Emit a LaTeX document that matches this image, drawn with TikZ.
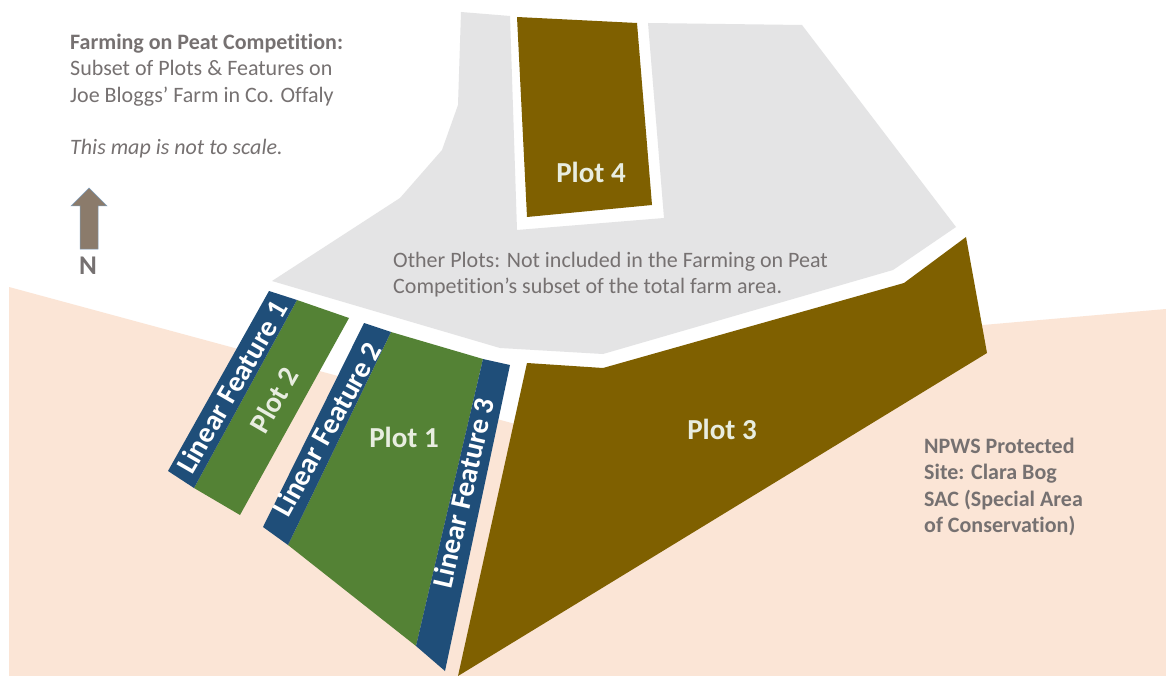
\documentclass[tikz,border=0pt]{standalone}
\usepackage{fontspec}
\setmainfont{Carlito}[Ligatures=NoCommon]
\definecolor{peach}{HTML}{FBE5D6}
\definecolor{greyplot}{HTML}{E4E4E5}
\definecolor{brownplot}{HTML}{7F6000}
\definecolor{greenplot}{HTML}{548235}
\definecolor{bluefeat}{HTML}{1F4E79}
\definecolor{txtgrey}{HTML}{767171}
\definecolor{platetxt}{HTML}{E8EDE0}
\definecolor{arrowfill}{HTML}{8B7B6B}
\definecolor{arrowline}{HTML}{7F9DB9}
\tikzset{
  x=1pt,y=-1pt,
  area/.style={draw=none},
  plotlabel/.style={font=\bfseries\fontsize{29}{32}\selectfont,text=platetxt,inner sep=0pt},
  featlabel/.style={font=\bfseries\fontsize{29}{32}\selectfont,text=white,inner sep=0pt},
  note/.style={font=\fontsize{22}{26.2}\selectfont,text=txtgrey,align=left,inner sep=0pt,anchor=north west}
}
\begin{document}
\begin{tikzpicture}
\useasboundingbox (0,0) rectangle (1166,676);
\fill[white] (0,0) rectangle (1166,676);
\fill[peach,area] (9,287) -- (530,428) -- (983,325) -- (1166,309) -- (1166,676) -- (9,676) -- cycle;
\fill[greyplot,area] (461,12) -- (510,16) -- (517,230) -- (664,218) -- (648,23) -- (802,25) -- (956,227) -- (893,270) -- (603,354) -- (500,348) -- (272,281) -- (400,198) -- (442,150) -- (458,105) -- cycle;
\fill[brownplot,area] (517,17) -- (637,23) -- (652,205) -- (527,217) -- cycle;
\fill[brownplot,area] (527,363) -- (603,368) -- (904,283) -- (966,237) -- (987,353) -- (458,676) -- cycle;
\fill[greenplot,area] (297,300) -- (349,318) -- (240,515) -- (194,488) -- cycle;
\fill[bluefeat,area] (269,291) -- (297,300) -- (194,488) -- (168,471) -- cycle;
\fill[greenplot,area] (391,332) -- (483,359) -- (416,646) -- (288,545) -- cycle;
\fill[bluefeat,area] (364,323) -- (391,332) -- (288,545) -- (263,527) -- cycle;
\fill[bluefeat,area] (483,359) -- (510,365) -- (445,671) -- (416,646) -- cycle;
\node[note] (title) at (70,34) {\textbf{Farming on Peat Competition:}\\Subset of Plots \& Features on\\Joe Bloggs’ Farm in Co. Offaly};
\node[note] (scale) at (70,139) {\textit{This map is not to scale.}};
\fill[arrowfill,draw=arrowline,line width=0.5pt] (89,188) -- (107,206) -- (98,206) -- (98,249) -- (80,249) -- (80,206) -- (71,206) -- cycle;
\node[font=\bfseries\fontsize{27}{30}\selectfont,text=txtgrey,inner sep=0pt] (north) at (88,266) {N};
\node[note] (other) at (393,252) {Other Plots: Not included in the Farming on Peat\\Competition’s subset of the total farm area.};
\node[note,font=\bfseries\fontsize{22}{26.3}\selectfont] (npws) at (924,438) {NPWS Protected\\Site: Clara Bog\\SAC (Special Area\\of Conservation)};
\node[plotlabel] (p4) at (591,172) {Plot 4};
\node[plotlabel] (p3) at (722,429) {Plot 3};
\node[plotlabel] (p1) at (404,437) {Plot 1};
\node[plotlabel,rotate=60] (p2) at (274,400) {Plot 2};
\node[featlabel,rotate=60] (lf1) at (232,387) {Linear Feature 1};
\node[featlabel,rotate=61] (lf2) at (327,429) {Linear Feature 2};
\node[featlabel,rotate=77] (lf3) at (463,493) {Linear Feature 3};
\end{tikzpicture}
\end{document}
